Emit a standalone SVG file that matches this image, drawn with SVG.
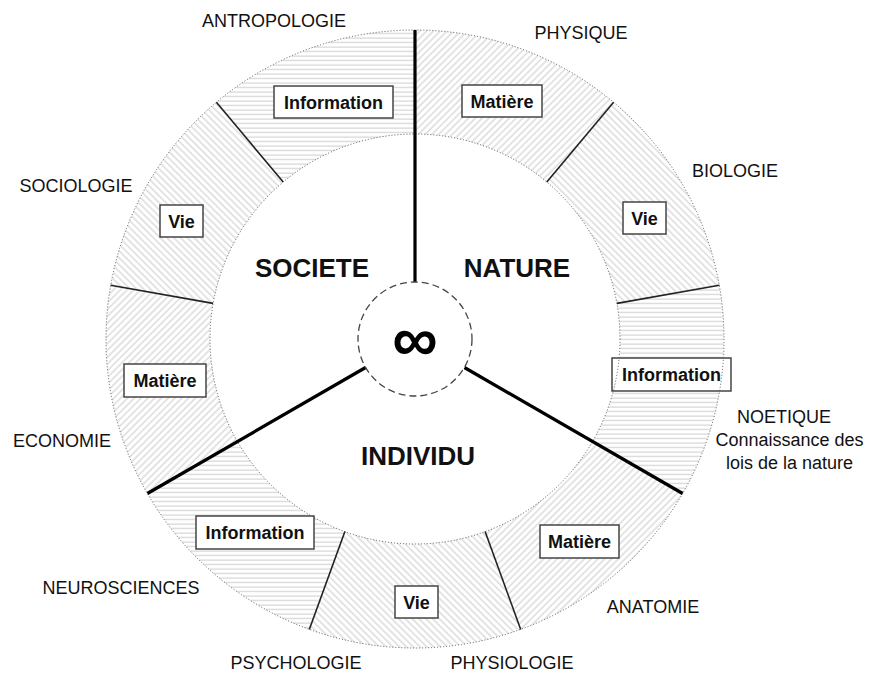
<svg xmlns="http://www.w3.org/2000/svg" width="869" height="673" viewBox="0 0 869 673">
<defs>
<pattern id="hInfo" patternUnits="userSpaceOnUse" width="8" height="4.5">
<rect width="8" height="4.5" fill="#fff"/>
<line x1="0" y1="2" x2="8" y2="2" stroke="#c2c2c2" stroke-width="0.9"/>
</pattern>
<pattern id="hMat" patternUnits="userSpaceOnUse" width="8" height="4.8" patternTransform="rotate(-45)">
<rect width="8" height="4.8" fill="#fff"/>
<line x1="0" y1="2" x2="8" y2="2" stroke="#c2c2c2" stroke-width="0.9"/>
</pattern>
<pattern id="hVie" patternUnits="userSpaceOnUse" width="8" height="4.8" patternTransform="rotate(45)">
<rect width="8" height="4.8" fill="#fff"/>
<line x1="0" y1="2" x2="8" y2="2" stroke="#c2c2c2" stroke-width="0.9"/>
</pattern>
</defs>
<style>
.info{fill:url(#hInfo)}
.mat{fill:url(#hMat)}
.vie{fill:url(#hVie)}
.box{fill:#fff;stroke:#444;stroke-width:1.5}
.bt{font-family:"Liberation Sans",Arial,sans-serif;font-weight:bold;font-size:18px;text-anchor:middle;fill:#111}
.lbl{font-family:"Liberation Sans",Arial,sans-serif;font-size:18px;text-anchor:middle;fill:#111}
.big{font-family:"Liberation Sans",Arial,sans-serif;font-weight:bold;font-size:26px;text-anchor:middle;fill:#111}
.dot{fill:none;stroke:#555;stroke-width:1;stroke-dasharray:1 2}
.thin{stroke:#222;stroke-width:1.6;fill:none}
.thick{stroke:#000;stroke-width:3.2;fill:none}
</style>
<rect width="869" height="673" fill="#fff"/>

<g id="sector-physique">
<path class="mat" d="M415,30 A309,309 0 0 1 613.6,102.3 L546.8,182 A205,205 0 0 0 415,134 Z"/>
<rect class="box" x="462" y="85" width="80" height="32"/>
<text class="bt" x="502" y="107.5">Matière</text>
</g>
<g id="sector-biologie">
<path class="vie" d="M613.6,102.3 A309,309 0 0 1 719.3,285.3 L616.9,303.4 A205,205 0 0 0 546.8,182 Z"/>
<rect class="box" x="623" y="202" width="43" height="32"/>
<text class="bt" x="644.5" y="224.5">Vie</text>
</g>
<g id="sector-noetique">
<path class="info" d="M719.3,285.3 A309,309 0 0 1 682.6,493.5 L592.5,441.5 A205,205 0 0 0 616.9,303.4 Z"/>
<rect class="box" x="612" y="358" width="119" height="33"/>
<text class="bt" x="671.5" y="381">Information</text>
</g>
<g id="sector-anatomie">
<path class="mat" d="M682.6,493.5 A309,309 0 0 1 520.7,629.4 L485.1,531.6 A205,205 0 0 0 592.5,441.5 Z"/>
<rect class="box" x="540" y="525" width="79" height="33"/>
<text class="bt" x="579.5" y="548">Matière</text>
</g>
<g id="sector-physiologie">
<path class="vie" d="M520.7,629.4 A309,309 0 0 1 309.3,629.4 L344.9,531.6 A205,205 0 0 0 485.1,531.6 Z"/>
<rect class="box" x="395" y="586" width="43" height="32"/>
<text class="bt" x="416.5" y="608.5">Vie</text>
</g>
<g id="sector-neurosciences">
<path class="info" d="M309.3,629.4 A309,309 0 0 1 147.4,493.5 L237.5,441.5 A205,205 0 0 0 344.9,531.6 Z"/>
<rect class="box" x="196" y="516" width="118" height="33"/>
<text class="bt" x="255" y="539">Information</text>
</g>
<g id="sector-economie">
<path class="mat" d="M147.4,493.5 A309,309 0 0 1 110.7,285.3 L213.1,303.4 A205,205 0 0 0 237.5,441.5 Z"/>
<rect class="box" x="124" y="364" width="82" height="33"/>
<text class="bt" x="165" y="387">Matière</text>
</g>
<g id="sector-sociologie">
<path class="vie" d="M110.7,285.3 A309,309 0 0 1 216.4,102.3 L283.2,182 A205,205 0 0 0 213.1,303.4 Z"/>
<rect class="box" x="160" y="205" width="43" height="32"/>
<text class="bt" x="181.5" y="227.5">Vie</text>
</g>
<g id="sector-antropologie">
<path class="info" d="M216.4,102.3 A309,309 0 0 1 415,30 L415,134 A205,205 0 0 0 283.2,182 Z"/>
<rect class="box" x="274" y="86" width="119" height="32"/>
<text class="bt" x="333.5" y="108.5">Information</text>
</g>

<g id="ring-outlines">
<circle class="dot" cx="415" cy="339" r="309"/>
<circle class="dot" cx="415" cy="339" r="205"/>
</g>

<g id="connectors">
<line class="thin" x1="546.8" y1="182" x2="613.6" y2="102.3"/>
<line class="thin" x1="616.9" y1="303.4" x2="719.3" y2="285.3"/>
<line class="thin" x1="485.1" y1="531.6" x2="520.7" y2="629.4"/>
<line class="thin" x1="344.9" y1="531.6" x2="309.3" y2="629.4"/>
<line class="thin" x1="213.1" y1="303.4" x2="110.7" y2="285.3"/>
<line class="thin" x1="283.2" y1="182" x2="216.4" y2="102.3"/>
<line class="thick" x1="415" y1="282" x2="415" y2="30"/>
<line class="thick" x1="365.6" y1="367.5" x2="147.4" y2="493.5"/>
<line class="thick" x1="464.4" y1="367.5" x2="682.6" y2="493.5"/>
</g>

<g id="center">
<circle cx="415" cy="339" r="57" fill="#fff" stroke="#444" stroke-width="1.3" stroke-dasharray="7 4"/>
<text x="415" y="361" font-family="Liberation Sans,Arial,sans-serif" font-weight="bold" font-size="64" text-anchor="middle" fill="#000">∞</text>
</g>

<g id="societe"><text class="big" x="312" y="277">SOCIETE</text></g>
<g id="nature"><text class="big" x="517" y="277">NATURE</text></g>
<g id="individu"><text class="big" x="418" y="465">INDIVIDU</text></g>

<g id="label-antropologie"><text class="lbl" x="274" y="27">ANTROPOLOGIE</text></g>
<g id="label-physique"><text class="lbl" x="581" y="39">PHYSIQUE</text></g>
<g id="label-biologie"><text class="lbl" x="735" y="177">BIOLOGIE</text></g>
<g id="label-noetique">
<text class="lbl" x="784" y="423">NOETIQUE</text>
<text class="lbl" x="789.5" y="446">Connaissance des</text>
<text class="lbl" x="789.5" y="469">lois de la nature</text>
</g>
<g id="label-anatomie"><text class="lbl" x="653" y="613">ANATOMIE</text></g>
<g id="label-physiologie"><text class="lbl" x="512" y="669">PHYSIOLOGIE</text></g>
<g id="label-psychologie"><text class="lbl" x="296" y="669">PSYCHOLOGIE</text></g>
<g id="label-neurosciences"><text class="lbl" x="121" y="594">NEUROSCIENCES</text></g>
<g id="label-economie"><text class="lbl" x="62" y="447">ECONOMIE</text></g>
<g id="label-sociologie"><text class="lbl" x="76" y="192">SOCIOLOGIE</text></g>
</svg>
